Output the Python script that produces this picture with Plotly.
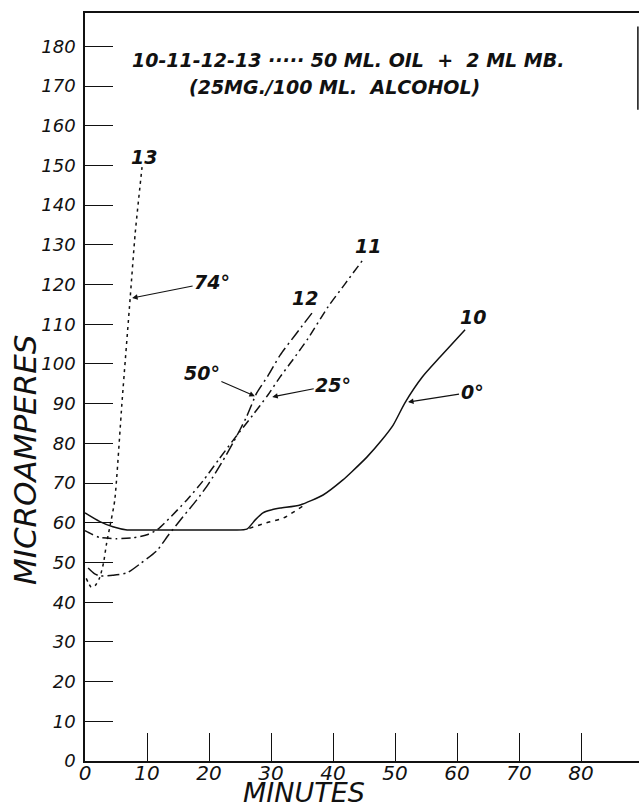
import plotly.graph_objects as go

# Time (minutes) and current (microamperes) for each run
t10 = [0, 2.4, 4.5, 6.8, 10, 15, 20, 24, 26.1, 27.5, 28.7, 30, 31.5, 34.7, 38.4, 41.6,
       43, 45.5, 47.9, 49.7, 51.6, 54.4, 57.3, 61.3]
i10 = [62.5, 60.3, 59, 58.2, 58.2, 58.2, 58.2, 58.2, 58.4, 60.8, 62.5, 63.2, 63.7, 64.5, 67, 70.8,
       72.8, 76.6, 80.9, 84.6, 90.2, 96.7, 101.8, 108.6]

# second trace of run 10 through the knee
t10b = [26.5, 29.3, 32, 35.2]
i10b = [58.6, 60, 61.2, 64.3]

t11 = [0, 1, 2.4, 5, 7.7, 10, 11.6, 13.2, 16.4, 19, 21.6, 24, 27, 29.5, 31.5, 33.5, 36,
       39.2, 42, 44.8]
i11 = [58, 57.2, 56.3, 56, 56.2, 57, 58.2, 60.5, 65.7, 70.5, 76, 81, 87, 92.2, 96.8, 101, 106.5,
       114.4, 120.3, 126.2]

t12 = [0.5, 1.5, 2.4, 4.5, 6.8, 9, 11.6, 13.5, 15.8, 18, 20, 22, 24, 26, 27.7, 29.5, 31.5,
       34, 36.6]
i12 = [48.6, 47.2, 46.6, 46.8, 47.4, 49.8, 53, 57, 61.5, 65.7, 70, 75, 80.5, 86.5, 92.7, 97,
       102.3, 107.5, 112.8]

t13 = [0.2, 1, 1.7, 2.4, 3, 3.5, 4.2, 4.8, 6, 7.3, 8.1, 9.2]
i13 = [46, 43.8, 44.3, 46.3, 50, 55, 60.5, 65.7, 91, 116.9, 133, 149.6]

x_ticks = [0, 10, 20, 30, 40, 50, 60, 70, 80]
y_ticks = list(range(0, 190, 10))

BLACK = "#111111"
FONT = "DejaVu Sans"

fig = go.Figure()

def curve(x, y, dash, name):
    fig.add_trace(go.Scatter(x=x, y=y, mode="lines", name=name, showlegend=False,
                             line=dict(color=BLACK, width=1.5, dash=dash, shape="spline",
                                       smoothing=0.6)))

curve(t10, i10, "solid", "10")
curve(t10b, i10b, "4px,5px", "10b")
curve(t11, i11, "9px,4px,2px,4px", "11")
curve(t12, i12, "12px,4px,2px,4px", "12")
curve(t13, i13, "3px,4px", "13")

lab_font = dict(family=FONT, size=19, color=BLACK, weight="bold", style="italic")

def label(x, y, text):
    fig.add_annotation(x=x, y=y, text=text, showarrow=False, font=lab_font)

label(9.5, 152.1, "13")
label(35.5, 116.6, "12")
label(45.6, 129.7, "11")
label(62.6, 111.8, "10")

def pointer(x, y, ax, ay, text):
    fig.add_annotation(x=x, y=y, ax=ax, ay=ay, text=text, showarrow=True,
                       arrowhead=2, arrowsize=1, arrowwidth=1.1, arrowcolor=BLACK,
                       standoff=0, font=lab_font)

pointer(7.6, 116.6, 80, -16, "74°")
pointer(27.4, 91.9, -53, -23, "50°")
pointer(30.2, 91.7, 61, -12, "25°")
pointer(52.1, 90.4, 64, -10, "0°")

head_font = dict(family=FONT, size=19, color=BLACK, weight="bold", style="italic")
fig.add_annotation(x=42.4, y=176.6, text="10-11-12-13 ····· 50 ML. OIL  +  2 ML MB.",
                   showarrow=False, font=head_font)
fig.add_annotation(x=40.2, y=169.7, text="(25MG./100 ML.  ALCOHOL)",
                   showarrow=False, font=head_font)

title_font = dict(family=FONT, size=27, color=BLACK, style="italic")
fig.add_annotation(xref="paper", yref="paper", x=(304 - 85) / 554, y=-(792 - 761) / 748,
                   text="MINUTES", showarrow=False, font=title_font,
                   xanchor="center", yanchor="middle", borderpad=0)
fig.add_annotation(xref="paper", yref="paper", x=-(85 - 25) / 554, y=(761 - 460) / 748,
                   text="MICROAMPERES", showarrow=False, font=dict(title_font, size=31),
                   textangle=-90, xanchor="center", yanchor="middle")

# short piece of the right-hand border near the top
fig.add_shape(type="line", xref="paper", yref="y", x0=0.998, x1=0.998, y0=164, y1=185,
              line=dict(color=BLACK, width=1.5))

fig.update_xaxes(range=[0, 89.35], tickvals=x_ticks, ticktext=[str(v) for v in x_ticks],
                 ticks="inside", ticklen=28, tickwidth=1.4, tickcolor=BLACK,
                 showline=True, linecolor=BLACK, linewidth=1.6, mirror=True,
                 showgrid=False, zeroline=False, ticklabelstandoff=-7,
                 tickfont=dict(family=FONT, size=20, color=BLACK, style="italic"))
fig.update_yaxes(range=[0, 188.4], tickvals=y_ticks, ticktext=[str(v) for v in y_ticks],
                 ticks="inside", ticklen=28, tickwidth=1.4, tickcolor=BLACK,
                 showline=True, linecolor=BLACK, linewidth=1.6,
                 showgrid=False, zeroline=False, ticklabelstandoff=4,
                 tickfont=dict(family=FONT, size=18, color=BLACK, style="italic"))

fig.update_layout(width=639, height=808, margin=dict(l=85, r=0, t=13, b=47),
                  paper_bgcolor="white", plot_bgcolor="white", showlegend=False)

fig.write_html("out.html")
